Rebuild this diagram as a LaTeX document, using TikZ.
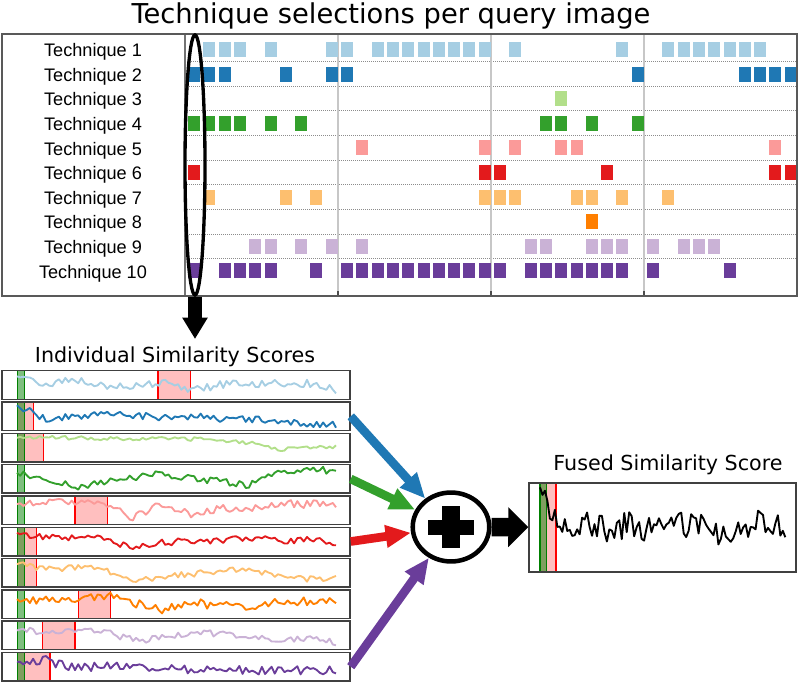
\documentclass[tikz,border=0pt]{standalone}
\usepackage{fontspec}
\setmainfont{DejaVu Sans}
\newfontfamily\labelfont{Liberation Sans}
\usetikzlibrary{arrows.meta, shapes.geometric}

\definecolor{tech1}{HTML}{A6CEE3}
\definecolor{tech2}{HTML}{1F78B4}
\definecolor{tech3}{HTML}{B2DF8A}
\definecolor{tech4}{HTML}{33A02C}
\definecolor{tech5}{HTML}{FB9A99}
\definecolor{tech6}{HTML}{E31A1C}
\definecolor{tech7}{HTML}{FDBF6F}
\definecolor{tech8}{HTML}{FF7F00}
\definecolor{tech9}{HTML}{CAB2D6}
\definecolor{tech10}{HTML}{6A3D9A}
\definecolor{bandgreen}{HTML}{008000}
\definecolor{bandred}{HTML}{FF0000}

\tikzset{
  techlabel/.style={anchor=base, inner sep=0pt, font=\labelfont\fontsize{13.6}{16}\selectfont},
  panelbox/.style={draw=black!75, line width=1.1pt, inner sep=0pt, minimum width=261pt, minimum height=21.4pt},
  scoreline/.style={line width=1.4pt, line join=round},
  redband/.style={draw=bandred, fill=bandred, fill opacity=0.25, line width=0.9pt},
  greenband/.style={draw=bandgreen, fill=bandgreen, fill opacity=0.5, line width=0.9pt},
  fusearrow/.style={line width=6.5pt, -{Triangle[length=19pt, width=16pt]}},
}

% #1 colour, #2 seed, #3 x start, #4 segment, #5 top, #6 height, #7 noise, #8 first level, #9 levels
\newcommand{\scoretrace}[9]{%
  \pgfmathsetseed{#2}
  \draw[scoreline, #1] (#3, {#5+#6*#8})
    foreach \lvl [remember=\lvl as \prevlvl (initially #8), count=\segno] in {#9} {
      foreach \j in {1,...,9} {
        -- ({#3+(\segno-1+\j/9)*#4}, {#5+#6*(\prevlvl+(\lvl-\prevlvl)*\j/9)+#7*rand})
      }
    };
}
% #1 panel, #2 colour, #3 seed, #4 noise, #5 first level, #6 levels
\newcommand{\paneltrace}[6]{\scoretrace{#2}{#3}{17}{29}{(372.7+31.3*(#1-1))}{24.5}{#4}{#5}{#6}}

\begin{document}
\begin{tikzpicture}[x=0.75pt, y=-0.75pt]
\useasboundingbox (0,0) rectangle (800,685);

% selections per query image
\node[anchor=base, inner sep=0pt, font=\fontsize{20.5}{24}\selectfont] (title) at (391,23.4) {Technique selections per query image};
\foreach \k in {0,...,8}
  \draw[black!45, line width=0.75pt, dash pattern=on 0.75pt off 0.75pt] (185,{61.8+24.6*\k}) -- (797,{61.8+24.6*\k});
\foreach \gx in {338,491,644} {
  \draw[black!22, line width=1.1pt] (\gx,34) -- (\gx,296);
  \draw[black!70, line width=1pt] (\gx,296) -- (\gx,291);
}
\draw[black!55, line width=1pt] (185,34) -- (185,296);
\foreach \r/\qs in {1/{1,2,3,5,9,10,12,13,14,15,16,17,18,19,21,28,31,32,33,34,35,36,37},
                    2/{0,1,2,6,9,10,29,36,37,38,39},
                    3/{24},
                    4/{0,1,2,3,5,7,23,24,26,29},
                    5/{11,19,21,24,25,38},
                    6/{0,19,20,27,38,39},
                    7/{1,6,8,19,20,21,25,26,28,31},
                    8/{26},
                    9/{4,5,7,9,11,22,23,26,27,28,30,32,33,34},
                    10/{0,2,3,4,5,8,10,11,12,13,14,15,16,17,18,19,20,22,23,24,25,26,27,28,30,35}} {
  \node[techlabel] (lab\r) at (93,{56.7+24.6*(\r-1)}) {Technique \r};
  \foreach \q in \qs
    \fill[tech\r] ({188+15.3*\q},{42+24.6*(\r-1)}) rectangle +(12,15);
}
\draw[black!65, line width=1.5pt] (2,34) rectangle (797,296);
\node[draw, ellipse, line width=2.5pt, inner sep=0pt, minimum width=15pt, minimum height=195pt] (sel) at (195,165) {};
\coordinate (seltip) at (195,339);
\draw[line width=10pt, -{Triangle[length=16pt, width=18pt]}] (sel.south) -- (seltip);

% individual scores
\node[anchor=base, inner sep=0pt, font=\fontsize{15.5}{18}\selectfont] (indtitle) at (175,362.7) {Individual Similarity Scores};
\foreach \i/\ra/\rb in {1/158/190.7, 2/17.3/33.3, 3/17.3/43.3, 5/75/107.3, 6/17.3/36.7,
                        7/17.3/36.7, 8/78.3/110.7, 9/42.7/75, 10/17.3/50}
  \filldraw[redband] (\ra,{370.7+31.3*(\i-1)}) rectangle (\rb,{399.2+31.3*(\i-1)});
\foreach \i in {1,...,10}
  \filldraw[greenband] (17.3,{370.7+31.3*(\i-1)}) rectangle (24.3,{399.2+31.3*(\i-1)});
\paneltrace{1}{tech1}{11}{4}{0.15}{0.45,0.3,0.55,0.55,0.4,0.75,0.5,0.45,0.45,0.45,0.7}
\paneltrace{2}{tech2}{12}{3.5}{0.05}{0.6,0.5,0.45,0.45,0.55,0.5,0.6,0.6,0.7,0.8,0.85}
\paneltrace{3}{tech3}{13}{2}{0.1}{0.1,0.1,0.12,0.15,0.15,0.15,0.2,0.3,0.6,0.5,0.45}
\paneltrace{4}{tech4}{14}{3.5}{0.25}{0.45,0.85,0.6,0.45,0.3,0.5,0.6,0.75,0.2,0.15,0.15}
\paneltrace{5}{tech5}{15}{4}{0.25}{0.2,0.2,0.3,0.8,0.25,0.7,0.45,0.45,0.25,0.25,0.25}
\paneltrace{6}{tech6}{16}{3.5}{0.15}{0.35,0.35,0.4,0.75,0.55,0.45,0.5,0.35,0.45,0.45,0.55}
\paneltrace{7}{tech7}{17}{3}{0.15}{0.35,0.3,0.35,0.85,0.65,0.55,0.45,0.35,0.6,0.75,0.7}
\paneltrace{8}{tech8}{18}{4.5}{0.3}{0.35,0.35,0.15,0.45,0.75,0.45,0.55,0.65,0.35,0.4,0.45}
\paneltrace{9}{tech9}{19}{3.5}{0.3}{0.35,0.25,0.35,0.7,0.6,0.4,0.45,0.5,0.75,0.65,0.8}
\paneltrace{10}{tech10}{20}{4.5}{0.3}{0.25,0.55,0.5,0.45,0.55,0.6,0.5,0.7,0.6,0.65,0.65}
\foreach \i in {1,...,10}
  \node[panelbox] (p\i) at (176,{385+31.3*(\i-1)}) {};

% fused score
\node[anchor=base, inner sep=0pt, font=\fontsize{15.5}{18}\selectfont] (fusedtitle) at (668,470.7) {Fused Similarity Score};
\filldraw[redband] (540,483) rectangle (556,572);
\filldraw[greenband] (540,483) rectangle (546.7,572);
\scoretrace{black}{7}{540}{22.3}{485}{80}{13}{0.03}{0.55,0.45,0.55,0.5,0.55,0.5,0.5,0.6,0.55,0.45,0.5}
\node[panelbox, minimum width=200.25pt, minimum height=66.75pt] (fused) at (662.5,527.5) {};

\node[draw, ellipse, line width=3.4pt, inner sep=0pt, minimum width=57.4pt, minimum height=51.7pt] (plus) at (451,527) {};
\fill ([shift={(-23,-7.5)}]plus.center) rectangle ([shift={(23,7.5)}]plus.center);
\fill ([shift={(-9,-21)}]plus.center) rectangle ([shift={(9,21)}]plus.center);
\draw[fusearrow, tech2] (p2.east) -- (plus);
\draw[fusearrow, tech4] (p4.east) -- (plus);
\draw[fusearrow, tech6] (p6.east) -- (plus);
\draw[fusearrow, tech10] (p10.east) -- (plus);
\draw[line width=14pt, -{Triangle[length=15pt, width=29pt]}] (plus) -- (fused);
\end{tikzpicture}
\end{document}
